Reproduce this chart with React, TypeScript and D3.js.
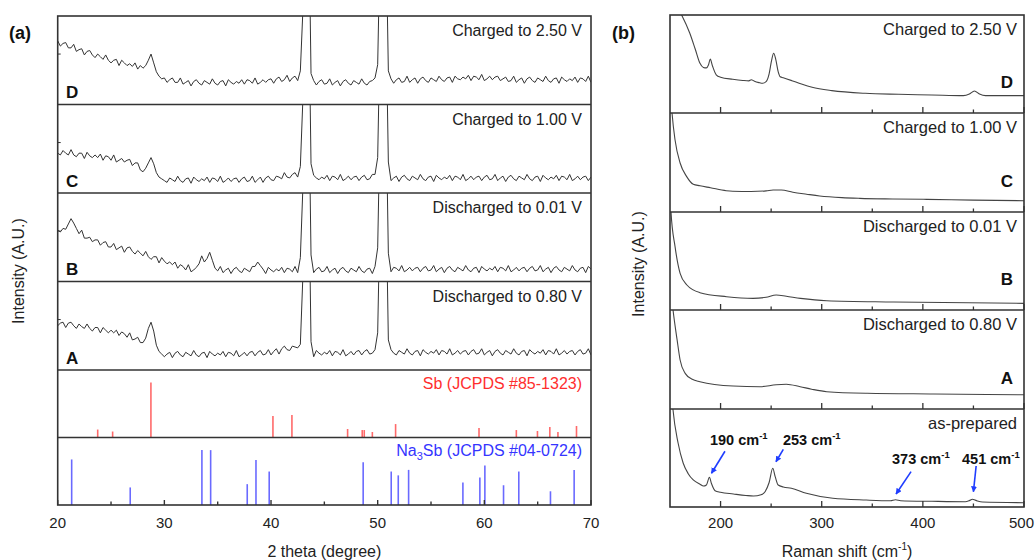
import React from 'react';
import * as d3 from 'd3';

// ---------------- DATA ----------------
// XRD patterns (2θ from 20 to 70 every 0.25°), intensity in % of panel height
const XRD_START = 20;
const XRD_STEP = 0.25;
const xrdD = [
  72, 66, 69, 70, 64, 64, 68, 60, 62, 63, 56, 60, 61, 56, 53, 57, 54, 51, 56, 50,
  47, 50, 51, 44, 50, 47, 44, 46, 43, 47, 40, 44, 41, 44, 50, 57, 47, 37, 32, 29,
  30, 25, 28, 30, 25, 25, 30, 23, 25, 27, 21, 26, 28, 24, 22, 27, 25, 23, 29, 24,
  22, 26, 27, 21, 28, 25, 23, 26, 24, 28, 23, 28, 27, 24, 30, 23, 25, 28, 25, 28,
  29, 24, 29, 31, 26, 28, 33, 26, 30, 32, 27, 38, 110, 500, 250, 35, 27, 22, 26, 28,
  23, 24, 29, 22, 25, 27, 21, 26, 28, 24, 22, 27, 25, 23, 29, 24, 22, 26, 27, 30,
  45, 200, 500, 220, 38, 29, 24, 28, 30, 25, 26, 32, 25, 28, 30, 24, 29, 31, 27, 25,
  30, 28, 26, 32, 28, 26, 30, 31, 25, 32, 29, 28, 31, 29, 33, 27, 32, 31, 28, 34,
  27, 29, 32, 28, 31, 32, 27, 29, 31, 26, 27, 32, 25, 28, 30, 24, 29, 31, 27, 25,
  30, 28, 26, 32, 27, 25, 29, 30, 24, 31, 28, 26, 29, 27, 31, 25, 30, 29, 26, 32,
  25,
];
const xrdC = [
  45, 43, 48, 45, 43, 49, 43, 41, 45, 45, 39, 46, 42, 40, 43, 40, 44, 37, 42, 41,
  37, 43, 35, 37, 39, 35, 37, 38, 31, 34, 34, 26, 24, 28, 34, 40, 33, 23, 18, 16,
  14, 12, 17, 15, 13, 19, 14, 12, 16, 17, 11, 18, 15, 13, 16, 14, 18, 12, 17, 16,
  13, 19, 12, 14, 17, 13, 16, 17, 12, 16, 18, 13, 14, 19, 12, 15, 18, 12, 17, 19,
  15, 14, 19, 18, 16, 23, 18, 17, 21, 23, 18, 30, 110, 500, 250, 33, 20, 17, 15, 18,
  16, 20, 14, 19, 18, 15, 21, 14, 16, 19, 15, 18, 19, 14, 18, 20, 15, 16, 21, 21,
  40, 200, 500, 220, 35, 14, 17, 19, 13, 18, 20, 16, 14, 19, 17, 15, 21, 16, 14, 18,
  19, 13, 20, 17, 15, 18, 16, 20, 14, 19, 18, 15, 21, 14, 16, 19, 15, 18, 19, 14,
  18, 20, 15, 16, 21, 14, 17, 19, 13, 18, 20, 16, 14, 19, 17, 15, 21, 16, 14, 18,
  19, 13, 20, 17, 15, 18, 16, 20, 14, 19, 18, 15, 21, 14, 16, 19, 15, 18, 19, 14,
  18,
];
const xrdB = [
  58, 56, 60, 59, 65, 71, 66, 60, 54, 58, 49, 49, 50, 45, 47, 47, 41, 44, 45, 39,
  39, 43, 36, 38, 40, 33, 38, 39, 34, 31, 35, 32, 29, 34, 28, 25, 28, 28, 21, 27,
  23, 20, 22, 19, 22, 15, 19, 17, 13, 19, 11, 13, 16, 20, 29, 22, 26, 33, 24, 15,
  12, 17, 10, 13, 15, 9, 14, 16, 12, 10, 15, 13, 11, 17, 17, 22, 18, 14, 9, 16,
  13, 11, 14, 12, 16, 10, 15, 14, 11, 17, 10, 27, 110, 500, 250, 30, 10, 14, 16, 11,
  12, 17, 10, 13, 15, 9, 14, 16, 12, 10, 15, 13, 11, 17, 12, 10, 14, 15, 9, 17,
  38, 200, 500, 220, 32, 11, 16, 15, 12, 18, 11, 13, 16, 12, 15, 16, 11, 15, 17, 12,
  13, 18, 11, 14, 16, 10, 15, 17, 13, 11, 16, 14, 12, 18, 13, 11, 15, 16, 10, 17,
  14, 12, 15, 13, 17, 11, 16, 15, 12, 18, 11, 13, 16, 12, 15, 16, 11, 15, 17, 12,
  13, 18, 11, 14, 16, 10, 15, 17, 13, 11, 16, 14, 12, 18, 13, 11, 15, 16, 10, 17,
  14,
];
const xrdA = [
  50, 53, 54, 48, 53, 54, 50, 47, 52, 49, 47, 52, 47, 44, 48, 48, 42, 48, 45, 42,
  45, 42, 45, 39, 43, 41, 37, 42, 34, 35, 37, 31, 31, 36, 47, 54, 44, 28, 21, 18,
  15, 18, 20, 14, 19, 21, 17, 15, 20, 18, 16, 22, 17, 15, 19, 20, 14, 21, 18, 16,
  19, 17, 21, 15, 20, 19, 16, 22, 15, 17, 20, 16, 20, 21, 16, 20, 22, 17, 18, 23,
  17, 21, 24, 18, 24, 27, 23, 22, 27, 26, 25, 29, 110, 500, 250, 32, 15, 22, 19, 17,
  20, 18, 22, 16, 21, 20, 17, 23, 16, 18, 21, 17, 21, 22, 17, 21, 23, 18, 19, 23,
  42, 200, 500, 220, 34, 23, 19, 17, 22, 20, 18, 24, 19, 17, 21, 22, 16, 23, 20, 18,
  21, 19, 23, 17, 22, 21, 18, 24, 17, 19, 22, 18, 21, 22, 17, 21, 23, 18, 19, 24,
  17, 20, 22, 16, 21, 23, 19, 17, 22, 20, 18, 24, 19, 17, 21, 22, 16, 23, 20, 18,
  21, 19, 23, 17, 22, 21, 18, 24, 17, 19, 22, 18, 21, 22, 17, 21, 23, 18, 19, 24,
  17,
];
const xrdSeries = [xrdD, xrdC, xrdB, xrdA];
const xrdLabels = ['Charged to 2.50 V', 'Charged to 1.00 V', 'Discharged to 0.01 V', 'Discharged to 0.80 V'];
const stageLetters = ['D', 'C', 'B', 'A'];

// Reference patterns (2θ, relative intensity)
const sbPos = [23.75, 25.15, 28.74, 40.18, 41.96, 47.18, 48.55, 48.74, 49.5, 51.68, 59.5, 63.0, 64.98, 66.14, 66.9, 68.64];
const sbInt = [14.5, 10.9, 100, 39, 41, 15.5, 13.6, 13.6, 10, 24.5, 17.3, 13.6, 11.8, 19, 10, 21];
const naPos = [21.31, 26.8, 33.52, 34.34, 37.77, 38.59, 39.83, 48.64, 51.27, 51.93, 52.9, 57.99, 59.58, 60.05, 61.8, 63.23, 66.2, 68.42];
const naInt = [83, 32, 100, 100, 38, 82, 61, 78, 61, 54, 64, 41, 50, 72, 36, 61, 25, 64];

// Raman spectra [wavenumber, intensity % of panel]
const ramanD = [
  [150, 125], [155, 112], [161.5, 100], [169.5, 81.6], [175, 65], [179.5, 51], [183, 46.5], [186, 46],
  [188, 49], [189.8, 55], [192, 48], [195.7, 39], [200, 36.5], [212, 34.4], [222, 33.2], [228, 32.8],
  [230.4, 34], [233, 32.7], [238, 31], [241.6, 30.3], [245, 32], [248, 40], [250.5, 54], [252.5, 61],
  [254.5, 55], [257, 42], [259, 37], [262, 36], [270.5, 33], [280, 29.5], [290.5, 26.2], [310, 22.8],
  [343, 20.1], [376, 19.1], [409, 18.4], [440, 17.7], [446, 19.3], [451, 22.4], [456, 19.3], [462, 17.7],
  [500, 17.7],
];
const ramanC = [
  [150, 130], [152, 100], [155, 72.7], [160, 49.5], [166.5, 35.7], [173, 28], [179.6, 26.5], [190, 24.5],
  [205.6, 21.5], [212, 21], [230, 20.7], [245, 21.3], [252, 22.2], [260, 22.2], [271.5, 20], [285, 18],
  [298, 16.2], [320, 14.5], [337.6, 13.8], [370, 13.2], [403.7, 12.8], [450, 12], [500, 11.4],
];
const ramanB = [
  [150, 130], [151, 100], [155, 64.6], [160, 37.4], [166.7, 25.5], [179.6, 17.7], [206, 13.6], [232, 11.9],
  [245, 13], [255, 15.3], [265, 14], [279, 11.9], [305, 9.5], [371, 8.2], [500, 6.8],
];
const ramanA = [
  [150, 130], [153, 100], [157, 70], [160, 49.5], [165, 36], [172, 30], [179.6, 27.6], [212.4, 23.2],
  [239, 22.5], [255, 24.5], [265, 25], [278.7, 22.5], [290, 20], [305, 17.5], [345, 15.9], [411, 15.2],
  [500, 14.4],
];
const ramanP = [
  [150, 140], [153, 99], [158, 65.3], [163, 44.9], [168, 34], [173, 27.6], [180, 23], [183, 21.4],
  [186, 22.5], [189, 30.3], [191, 24], [194.6, 16.6], [200, 15], [212.7, 13.3], [225, 11.8], [232.5, 11.2],
  [240, 12.5], [244, 15.6], [248, 25], [251.6, 39.5], [254, 31], [257, 22.4], [262, 20.5], [270, 19.1],
  [284.8, 14], [311, 8.9], [344, 7.1], [368, 6.4], [373, 7.4], [378, 6.4], [409, 5.8], [442, 5.4],
  [446, 6.5], [449, 7.9], [453, 6.5], [459, 5.1], [500, 4.4],
];
const ramanSeries = [ramanD, ramanC, ramanB, ramanA, ramanP];
const ramanLabels = ['Charged to 2.50 V', 'Charged to 1.00 V', 'Discharged to 0.01 V', 'Discharged to 0.80 V', 'as-prepared'];
const ramanLetters = ['D', 'C', 'B', 'A', ''];

// Peak annotations in the as-prepared spectrum
const peakLabels = ['190', '253', '373', '451'];
const peakTips = [[191, 34.4], [254.8, 46.2], [373.5, 13.3], [450, 15.6]];

const xrdTicks = [20, 25, 30, 35, 40, 45, 50, 55, 60, 65, 70];
const ramanTicks = [200, 250, 300, 350, 400, 450, 500];

// ---------------- LAYOUT ----------------
const W = 1035;
const H = 560;
const aX0 = 57.7;
const aX1 = 591;
const aEdges = [16, 104.5, 193, 281.5, 370, 437.5, 505];
const bX0 = 670;
const bX1 = 1024;
const bEdges = [15, 113, 212, 310, 409, 507];
const annLayout = [
  { tail: [13.5, -22], text: [-1.5, -28.5] },
  { tail: [7.3, -12.4], text: [7, -16.7] },
  { tail: [15, -22.3], text: [-4, -30] },
  { tail: [2.7, -25.7], text: [-11.4, -27.7] },
];

const FONT = "'Liberation Sans', Arial, Helvetica, sans-serif";
const FRAME = '#333';
const TRACE = '#333';

export default function App() {
  const xA = d3.scaleLinear().domain([20, 70]).range([aX0, aX1]);
  const xB = d3.scaleLinear().domain([150, 500]).range([bX0, bX1]);

  const xrdPanels = xrdSeries.map((vals, k) => {
    const top = aEdges[k];
    const bot = aEdges[k + 1];
    const y = d3.scaleLinear().domain([0, 100]).range([bot, top]);
    const line = d3
      .line<number>()
      .x((_, i) => xA(XRD_START + i * XRD_STEP))
      .y((d) => y(d));
    return { top, bot, path: line(vals) || '' };
  });

  const stickY = (k: number) => d3.scaleLinear().domain([0, 123]).range([aEdges[k + 1], aEdges[k]]);
  const ySb = stickY(4);
  const yNa = stickY(5);

  const ramanPanels = ramanSeries.map((pts, k) => {
    const top = bEdges[k];
    const bot = bEdges[k + 1];
    const y = d3.scaleLinear().domain([0, 100]).range([bot, top]);
    const line = d3
      .line<number[]>()
      .x((d) => xB(d[0]))
      .y((d) => y(d[1]))
      .curve(d3.curveMonotoneX);
    return { top, bot, y, path: line(pts as number[][]) || '' };
  });
  const yP = ramanPanels[4].y;

  return (
    <svg
      width={W}
      height={H}
      style={{ position: 'absolute', left: 0, top: 0, display: 'block', background: '#fff' }}
      fontFamily={FONT}
    >
      <defs>
        {xrdPanels.map((p, k) => (
          <clipPath id={`ca${k}`} key={k}>
            <rect x={aX0} y={p.top} width={aX1 - aX0} height={p.bot - p.top} />
          </clipPath>
        ))}
        {ramanPanels.map((p, k) => (
          <clipPath id={`cb${k}`} key={k}>
            <rect x={bX0} y={p.top} width={bX1 - bX0} height={p.bot - p.top} />
          </clipPath>
        ))}
        <marker id="arrow" viewBox="0 0 10 10" refX="9" refY="5" markerWidth="6" markerHeight="6" orient="auto" markerUnits="userSpaceOnUse">
          <path d="M0,0 L10,5 L0,10 z" fill="#1f3dff" />
        </marker>
      </defs>

      {/* ---------- Panel (a) ---------- */}
      <text x={9} y={39} fontSize={18} fontWeight="bold" fill="#111">(a)</text>
      {xrdPanels.map((p, k) => (
        <g key={k}>
          <path d={p.path} fill="none" stroke={TRACE} strokeWidth={1} strokeLinejoin="round" clipPath={`url(#ca${k})`} />
          <text x={582} y={p.top + 20} fontSize={16} textAnchor="end" fill="#222">{xrdLabels[k]}</text>
          <text x={66} y={p.bot - 6.5} fontSize={17} fontWeight="bold" fill="#111">{stageLetters[k]}</text>
          <line x1={aX0} x2={aX0 + 3} y1={p.top + (p.bot - p.top) * 0.43} y2={p.top + (p.bot - p.top) * 0.43} stroke={FRAME} strokeWidth={1} />
        </g>
      ))}
      {/* Sb sticks */}
      {sbPos.map((pos, i) => (
        <line key={`sb${i}`} x1={xA(pos)} x2={xA(pos)} y1={ySb(0)} y2={ySb(sbInt[i])} stroke="#ff6a6a" strokeWidth={1.6} />
      ))}
      <text x={582} y={aEdges[4] + 19} fontSize={16} textAnchor="end" fill="#ff2e2e">Sb (JCPDS #85-1323)</text>
      {/* Na3Sb sticks */}
      {naPos.map((pos, i) => (
        <line key={`na${i}`} x1={xA(pos)} x2={xA(pos)} y1={yNa(0)} y2={yNa(naInt[i])} stroke="#6a6aff" strokeWidth={1.6} />
      ))}
      <text x={582} y={aEdges[5] + 18} fontSize={16} textAnchor="end" fill="#3535ff">
        Na<tspan fontSize={11} dy={4}>3</tspan><tspan dy={-4}>Sb (JCPDS #04-0724)</tspan>
      </text>
      {/* frames */}
      <rect x={aX0} y={aEdges[0]} width={aX1 - aX0} height={aEdges[6] - aEdges[0]} fill="none" stroke={FRAME} strokeWidth={1.6} />
      {aEdges.slice(1, 6).map((e, i) => (
        <line key={i} x1={aX0} x2={aX1} y1={e} y2={e} stroke={FRAME} strokeWidth={1.6} />
      ))}
      {xrdTicks.map((t) => (
        <line key={t} x1={xA(t)} x2={xA(t)} y1={aEdges[6]} y2={aEdges[6] - (t % 10 === 0 ? 5 : 3.5)} stroke={FRAME} strokeWidth={1.4} />
      ))}
      {xrdTicks.filter((t) => t % 10 === 0).map((t) => (
        <text key={t} x={xA(t)} y={528} fontSize={15} textAnchor="middle" fill="#222">{t}</text>
      ))}
      <text x={(aX0 + aX1) / 2} y={557} fontSize={16} textAnchor="middle" fill="#222">2 theta (degree)</text>
      <text transform={`translate(24, 271) rotate(-90)`} fontSize={16} textAnchor="middle" fill="#222">Intensity (A.U.)</text>

      {/* ---------- Panel (b) ---------- */}
      <text x={612} y={39} fontSize={18} fontWeight="bold" fill="#111">(b)</text>
      <text transform={`translate(644, 264) rotate(-90)`} fontSize={16} textAnchor="middle" fill="#222">Intensity (A.U.)</text>
      {ramanPanels.map((p, k) => (
        <g key={k}>
          <path d={p.path} fill="none" stroke="#444" strokeWidth={1.1} clipPath={`url(#cb${k})`} />
          <text x={1017} y={p.top + 20} fontSize={16.5} textAnchor="end" fill="#222">{ramanLabels[k]}</text>
          {ramanLetters[k] && (
            <text x={1013} y={p.bot - 25} fontSize={17} fontWeight="bold" textAnchor="end" fill="#111">{ramanLetters[k]}</text>
          )}
          {ramanTicks.map((t) => (
            <line key={t} x1={xB(t)} x2={xB(t)} y1={p.bot} y2={p.bot - (t % 100 === 0 ? 6 : 3.5)} stroke={FRAME} strokeWidth={1.3} />
          ))}
        </g>
      ))}
      <rect x={bX0} y={bEdges[0]} width={bX1 - bX0} height={bEdges[5] - bEdges[0]} fill="none" stroke={FRAME} strokeWidth={1.6} />
      {bEdges.slice(1, 5).map((e, i) => (
        <line key={i} x1={bX0} x2={bX1} y1={e} y2={e} stroke={FRAME} strokeWidth={1.6} />
      ))}
      {ramanTicks.filter((t) => t % 100 === 0).map((t) => (
        <text
          key={t}
          x={t === 500 ? W - 1 : xB(t)}
          y={528}
          fontSize={15}
          textAnchor={t === 500 ? 'end' : 'middle'}
          fill="#222"
        >
          {t}
        </text>
      ))}
      <text x={847} y={557} fontSize={16} textAnchor="middle" fill="#222">
        Raman shift (cm<tspan fontSize={10} dy={-7}>-1</tspan><tspan dy={7}>)</tspan>
      </text>

      {/* peak annotations */}
      {peakLabels.map((lab, i) => {
        const tx = xB(peakTips[i][0]);
        const ty = yP(peakTips[i][1]);
        const L = annLayout[i];
        return (
          <g key={lab}>
            <line x1={tx + L.tail[0]} y1={ty + L.tail[1]} x2={tx} y2={ty} stroke="#1f3dff" strokeWidth={1.6} markerEnd="url(#arrow)" />
            <text x={tx + L.text[0]} y={ty + L.text[1]} fontSize={14.5} fontWeight="bold" fill="#111">
              {lab} cm<tspan fontSize={9.5} dy={-6}>-1</tspan>
            </text>
          </g>
        );
      })}
    </svg>
  );
}
